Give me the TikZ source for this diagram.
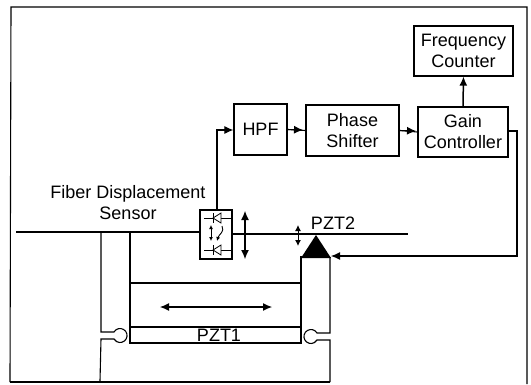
\documentclass[tikz,border=0pt]{standalone}
\usepackage{fontspec}
\setmainfont{Liberation Sans}
\usetikzlibrary{arrows.meta}
\tikzset{
  every picture/.style={x=1pt,y=-1pt},
  ln/.style={line width=1.1pt,black},
  thick ln/.style={line width=1.6pt,black},
  arr/.style={ln,-{Latex[length=9pt,width=8pt]}},
  darr/.style={ln,{Latex[length=9pt,width=8pt]}-{Latex[length=9pt,width=8pt]}},
  blk/.style={draw=black,line width=1.2pt,inner sep=0pt,align=center,font=\fontsize{18}{21}\selectfont,fill=white},
  lbl/.style={inner sep=0pt,align=center,font=\fontsize{18}{21}\selectfont},
}
\newcommand{\blkbox}[6]{\node[blk,minimum width=#4 pt,minimum height=#5 pt] (#1) at (#2,#3) {#6};}
\begin{document}
\begin{tikzpicture}
\useasboundingbox (0,0) rectangle (531,384);
\fill[white] (0,0) rectangle (531,384);
% outer frame
\coordinate (ftl) at (11,7); \coordinate (ftr) at (527,7);
\coordinate (fbl) at (10,382); \coordinate (fbr) at (527,384);
\coordinate (base) at (330,382);
\draw[ln] (fbl) -- (ftl) -- (ftr) -- (fbr);
\draw[thick ln] (fbl) -- (base);
% blocks
\blkbox{hpf}{260.5}{129.5}{53}{51}{HPF}
\blkbox{ps}{352.5}{130.5}{93}{51}{Phase\\Shifter}
\blkbox{gc}{463}{132}{90}{50}{Gain\\Controller}
\blkbox{fc}{463.5}{51}{99}{50}{Frequency\\Counter}
\node[draw=black,line width=1.1pt,minimum width=32pt,minimum height=49pt,inner sep=0pt] (sens) at (216,234.5) {};
% block connectors
\draw[ln] (hpf.east) -- (ps.west);
\draw[arr] (hpf.east) -- (303,130);
\draw[ln] (ps.east) -- (gc.west);
\draw[arr] (ps.east) -- (416,131);
\draw[arr,line width=1.5pt] (gc.north) -- (fc.south);
\coordinate (c1) at (217,130);
\draw[arr] (sens.north -| c1) -- (c1) -- (hpf.west |- c1);
\coordinate (c2) at (517,131); \coordinate (c3) at (517,256); \coordinate (c4) at (331,256);
\draw[arr] (gc.east |- c2) -- (c2) -- (c3) -- (c4);
% fibre
\coordinate (fibl) at (16,232); \coordinate (fibr) at (408,234);
\draw[ln] (fibl) -- (sens.west |- fibl);
\draw[ln] (sens.east |- fibr) -- (fibr);
% sensor content
\foreach \y in {218,250} {
  \draw[line width=0.8pt] (204,\y) -- (232,\y);
  \draw[line width=0.8pt,fill=white] (221,\y-5) -- (213,\y) -- (221,\y+5) -- cycle;
  \draw[line width=1pt] (213,\y-5) -- (213,\y+5);
}
\draw[line width=0.9pt,{Latex[length=4pt,width=4pt]}-{Latex[length=4pt,width=4pt]}] (211,225) -- (211,241);
\draw[line width=0.9pt,-{Latex[length=4pt,width=4pt]}] (222,226) .. controls (225,232) and (219,234) .. (217,241);
\coordinate (sa) at (245,211); \coordinate (sb) at (245,259);
\draw[darr] (sa) -- (sb);
% stage
\coordinate (a1) at (101,233); \coordinate (a2) at (101,332);
\coordinate (a3) at (101,339); \coordinate (a4) at (100,381);
\coordinate (b1) at (130,233); \coordinate (b2) at (130,343);
\coordinate (c5) at (301,256); \coordinate (c6) at (301,343);
\coordinate (d1) at (330,257); \coordinate (d2) at (330,333);
\coordinate (d3) at (330,340); \coordinate (d4) at (330,382);
\draw[ln] (a1) -- (a2) -- (114,332) arc[start angle=-150,end angle=150,radius=7] -- (a3) -- (a4);
\draw[ln] (d1) -- (d2) -- (317,333) arc[start angle=-30,end angle=-330,radius=7] -- (d3) -- (d4);
\draw[ln] (b1) -- (b2) -- (c6) -- (c5);
\draw[ln] (130,283) -- (301,283);
\draw[ln] (130,327) -- (301,327);
\coordinate (h1) at (160,307); \coordinate (h2) at (272,307);
\draw[darr] (h1) -- (h2);
% triangle and PZT2 arrow
\fill[black] (316,235) -- (301,258) -- (331,258) -- cycle;
\coordinate (v1) at (298,225); \coordinate (v2) at (298,246);
\draw[line width=1pt,{Latex[length=6pt,width=6pt]}-{Latex[length=6pt,width=6pt]}] (v1) -- (v2);
% labels
\node[lbl] (sl) at (128,203) {Fiber Displacement\\Sensor};
\node[lbl] (p1) at (219,335) {PZT1};
\node[lbl] (p2) at (333,223) {PZT2};
\end{tikzpicture}
\end{document}
